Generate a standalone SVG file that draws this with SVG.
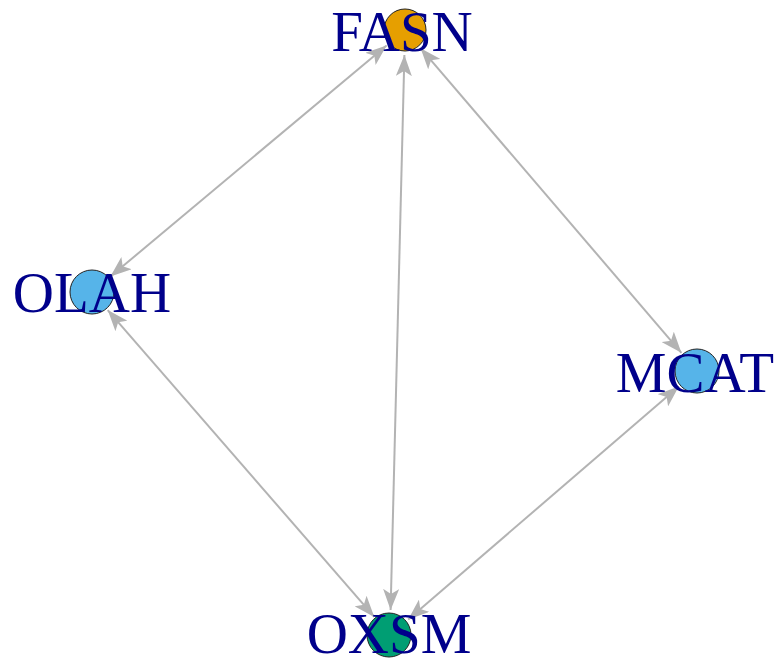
<svg xmlns="http://www.w3.org/2000/svg" width="784" height="664" viewBox="0 0 784 664">
<style>
.edge{stroke:#B3B3B3;stroke-width:2;fill:none;marker-start:url(#arr);marker-end:url(#arr)}
.node{stroke:#222;stroke-width:1}
.lbl{font-family:"Liberation Serif","Times New Roman",serif;font-size:57px;fill:#00008B;text-anchor:middle}
</style>
<defs>
<marker id="arr" viewBox="0 0 21 16" refX="21" refY="8" markerWidth="21" markerHeight="16" markerUnits="userSpaceOnUse" orient="auto-start-reverse">
<path d="M0,0 L21,8 L0,16 L5,8 Z" fill="#B3B3B3"/>
</marker>
</defs>
<rect width="784" height="664" fill="#fff"/>
<g id="edges">
<line class="edge" x1="386.6" y1="45.4" x2="110.4" y2="276.6"/>
<line class="edge" x1="404.4" y1="55" x2="390.6" y2="610"/>
<line class="edge" x1="420.6" y1="48.2" x2="681.4" y2="352.8"/>
<line class="edge" x1="107.7" y1="310.1" x2="374.3" y2="616.9"/>
<line class="edge" x1="678.8" y1="386.6" x2="408.2" y2="619.4"/>
</g>
<g id="FASN"><circle class="node" cx="405" cy="30" r="21" fill="#E69F00"/><text class="lbl" x="402" y="51">FASN</text></g>
<g id="OLAH"><circle class="node" cx="92" cy="292" r="22" fill="#56B4E9"/><text class="lbl" x="92" y="312">OLAH</text></g>
<g id="MCAT"><circle class="node" cx="697" cy="371" r="22" fill="#56B4E9"/><text class="lbl" x="695" y="392">MCAT</text></g>
<g id="OXSM"><circle class="node" cx="389" cy="635" r="22" fill="#009E73"/><text class="lbl" x="389" y="653">OXSM</text></g>
</svg>
